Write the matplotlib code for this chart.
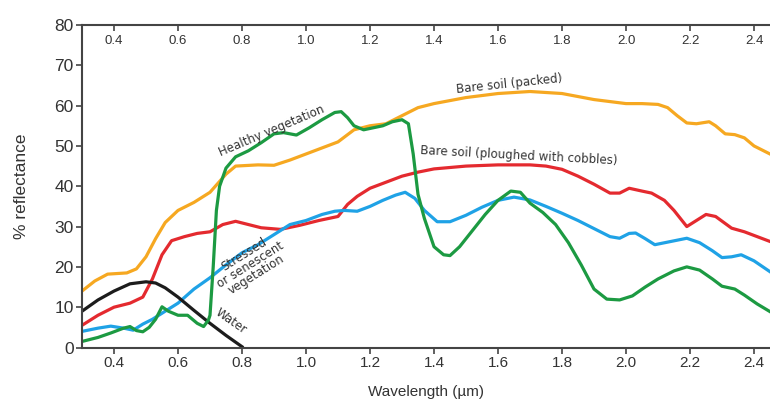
import matplotlib
matplotlib.use('Agg')
from matplotlib import pyplot as plt

plt.rcParams['font.family'] = ['Liberation Sans', 'DejaVu Sans']

# bare soil (packed)
soil_packed_x = [0.30, 0.34, 0.38, 0.44, 0.47, 0.50, 0.53, 0.56, 0.60, 0.65, 0.70, 0.75, 0.78, 0.85, 0.90,
                 0.95, 1.00, 1.05, 1.10, 1.15, 1.20, 1.25, 1.30, 1.35, 1.40, 1.50, 1.60, 1.70, 1.80, 1.90,
                 2.00, 2.05, 2.10, 2.13, 2.16, 2.19, 2.22, 2.26, 2.28, 2.31, 2.34, 2.37, 2.40, 2.45]
soil_packed_y = [14, 16.5, 18.2, 18.5, 19.5, 22.5, 27, 31, 34, 36, 38.5, 43, 45, 45.3, 45.2,
                 46.5, 48, 49.5, 51, 54, 55, 55.5, 57.5, 59.5, 60.5, 62, 63, 63.5, 63, 61.5,
                 60.5, 60.5, 60.3, 59.5, 57.5, 55.7, 55.5, 56, 55, 53, 52.8, 52, 50, 48]

# bare soil (ploughed with cobbles)
soil_plough_x = [0.30, 0.35, 0.40, 0.45, 0.49, 0.52, 0.55, 0.58, 0.62, 0.66, 0.70, 0.74, 0.78, 0.82, 0.86,
                 0.92, 0.98, 1.04, 1.10, 1.13, 1.16, 1.20, 1.25, 1.30, 1.35, 1.40, 1.50, 1.60, 1.70, 1.75,
                 1.80, 1.85, 1.90, 1.95, 1.98, 2.01, 2.05, 2.08, 2.12, 2.15, 2.19, 2.22, 2.25, 2.28, 2.33,
                 2.37, 2.45]
soil_plough_y = [5.5, 8, 10, 11, 12.5, 17, 23, 26.5, 27.5, 28.3, 28.7, 30.5, 31.3, 30.5, 29.7,
                 29.3, 30.3, 31.5, 32.5, 35.5, 37.5, 39.5, 41, 42.5, 43.5, 44.3, 45, 45.3, 45.3, 45,
                 44.2, 42.5, 40.5, 38.3, 38.3, 39.5, 38.8, 38.3, 36.5, 34, 30, 31.5, 33, 32.5, 29.6,
                 28.7, 26.3]

# stressed or senescent vegetation
stressed_x = [0.30, 0.35, 0.39, 0.43, 0.46, 0.49, 0.52, 0.55, 0.60, 0.65, 0.70, 0.75, 0.80, 0.85, 0.90,
              0.95, 1.00, 1.05, 1.09, 1.12, 1.16, 1.20, 1.24, 1.28, 1.31, 1.34, 1.37, 1.41, 1.45, 1.50,
              1.55, 1.60, 1.65, 1.70, 1.75, 1.80, 1.85, 1.90, 1.95, 1.98, 2.01, 2.03, 2.06, 2.09, 2.14,
              2.19, 2.23, 2.27, 2.30, 2.33, 2.36, 2.40, 2.45]
stressed_y = [4, 4.8, 5.3, 4.8, 4.3, 5.8, 7, 8.5, 11, 14.5, 17.3, 20.5, 23.5, 25.5, 28,
              30.5, 31.5, 33, 33.8, 34, 33.8, 35, 36.5, 37.8, 38.5, 37, 34, 31.2, 31.2, 32.8,
              34.8, 36.5, 37.3, 36.6, 35, 33.3, 31.5, 29.5, 27.5, 27.1, 28.3, 28.4, 27, 25.5, 26.3,
              27.1, 26, 24, 22.3, 22.5, 23, 21.5, 18.8]

# healthy vegetation
healthy_x = [0.30, 0.35, 0.39, 0.43, 0.45, 0.47, 0.49, 0.51, 0.53, 0.55, 0.57, 0.60, 0.63, 0.66, 0.68,
             0.695, 0.70, 0.71, 0.72, 0.73, 0.75, 0.78, 0.82, 0.86, 0.90, 0.93, 0.97, 1.01, 1.05, 1.09,
             1.11, 1.13, 1.15, 1.18, 1.21, 1.24, 1.27, 1.30, 1.32, 1.335, 1.35, 1.37, 1.40, 1.43, 1.45,
             1.48, 1.52, 1.56, 1.60, 1.64, 1.67, 1.70, 1.74, 1.78, 1.82, 1.86, 1.90, 1.94, 1.98, 2.02,
             2.06, 2.10, 2.15, 2.19, 2.23, 2.27, 2.30, 2.34, 2.37, 2.41, 2.45]
healthy_y = [1.5, 2.5, 3.6, 4.8, 5.2, 4.2, 3.9, 5, 7, 10.1, 9, 8, 8, 6, 5.2,
             6.8, 8, 20, 34, 40, 44.5, 47.3, 48.8, 50.8, 53, 53.3, 52.7, 54.5, 56.5, 58.3,
             58.5, 57, 55, 54, 54.5, 55, 56, 56.5, 55.5, 48, 38, 32, 25, 23, 22.8,
             25, 29, 33, 36.5, 38.8, 38.5, 35.8, 33.5, 30.5, 26, 20.5, 14.5, 12, 11.8, 12.8,
             15, 17, 19, 20, 19.2, 17, 15.2, 14.5, 13, 10.8, 8.9]

# water
water_x = [0.30, 0.35, 0.40, 0.45, 0.50, 0.53, 0.56, 0.60, 0.65, 0.70, 0.75, 0.80]
water_y = [9, 11.8, 14, 15.8, 16.3, 16, 14.8, 12.5, 9.2, 6, 3, 0.2]

xticks = [0.4, 0.6, 0.8, 1.0, 1.2, 1.4, 1.6, 1.8, 2.0, 2.2, 2.4]
yticks = [0, 10, 20, 30, 40, 50, 60, 70, 80]

fig = plt.figure(figsize=(7.7, 4.01), dpi=100)
ax = fig.add_axes([0.1065, 0.1334, 0.8935, 0.8043])

lw = 2.3
ax.plot(soil_packed_x, soil_packed_y, color='#f6a821', lw=lw)
ax.plot(soil_plough_x, soil_plough_y, color='#e42a2f', lw=lw)
ax.plot(stressed_x, stressed_y, color='#1fa2e6', lw=lw)
ax.plot(water_x, water_y, color='#1c1c1c', lw=lw)
ax.plot(healthy_x, healthy_y, color='#1c9a42', lw=lw)

ax.set_xlim(0.3, 2.45)
ax.set_ylim(0, 80)
ax.set_xticks(xticks)
ax.set_xticklabels(['%.1f' % v for v in xticks])
ax.set_yticks(yticks)

edge = '#444444'
ax.spines['right'].set_visible(False)
for s in ['left', 'bottom', 'top']:
    ax.spines[s].set_color(edge)
    ax.spines[s].set_linewidth(1.5)
ax.tick_params(axis='both', colors=edge, labelcolor='#333333', width=1.2, length=4)
ax.tick_params(axis='x', pad=2, labelsize=11)
ax.tick_params(axis='y', pad=2, labelsize=12.5)

top = ax.secondary_xaxis('top')
top.set_xticks(xticks)
top.set_xticklabels(['%.1f' % v for v in xticks])
top.spines['top'].set_visible(False)
top.tick_params(direction='in', colors=edge, labelcolor='#333333', width=1.2, length=4,
                labelsize=9.5, pad=-16)

ax.set_xlabel('Wavelength (µm)', fontsize=11, color='#333333', labelpad=11)
ax.set_ylabel('% reflectance', fontsize=12.5, color='#333333', labelpad=18)

tc = '#333333'
fam = ['DejaVu Sans']
ax.text(0.894, 53.7, 'Healthy vegetation', rotation=23, fontsize=8.5, color=tc, ha='center',
        va='center', family=fam)
ax.text(1.634, 65.4, 'Bare soil (packed)', rotation=6, fontsize=8.5, color=tc, ha='center',
        va='center', family=fam)
ax.text(1.666, 47.6, 'Bare soil (ploughed with cobbles)', rotation=-3, fontsize=8.5, color=tc,
        ha='center', va='center', family=fam)
ax.text(0.825, 20.5, 'Stressed\nor senescent\nvegetation', rotation=32, fontsize=8.5, color=tc,
        ha='center', va='center', linespacing=0.9, family=fam)
ax.text(0.766, 6.5, 'Water', rotation=-35, fontsize=8.5, color=tc, ha='center', va='center',
        family=fam)

fig.savefig('out.png', dpi=100)
